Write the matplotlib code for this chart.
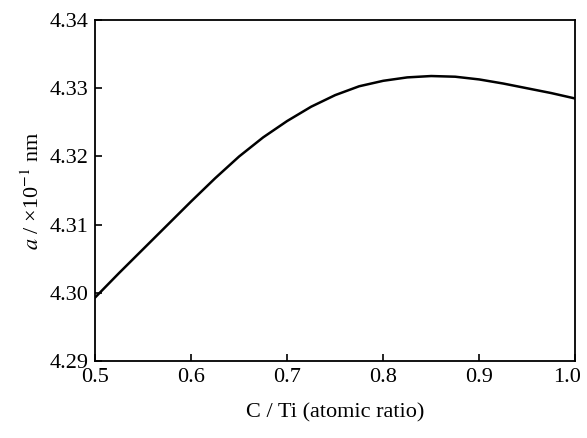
import matplotlib
matplotlib.use("Agg")
import matplotlib.pyplot as plt
import matplotlib.transforms as mtransforms

# C/Ti ratio vs lattice parameter
ratio = [0.500, 0.525, 0.550, 0.575, 0.600, 0.625, 0.650, 0.675, 0.700, 0.725, 0.750,
         0.775, 0.800, 0.825, 0.850, 0.875, 0.900, 0.925, 0.950, 0.975, 1.000]
lattice = [4.2993, 4.3029, 4.3064, 4.3099, 4.3134, 4.3168, 4.3200, 4.3228, 4.3252, 4.3273, 4.3290,
           4.3303, 4.3311, 4.3316, 4.3318, 4.3317, 4.3313, 4.3307, 4.3300, 4.3293, 4.3285]

xticks = [0.5, 0.6, 0.7, 0.8, 0.9, 1.0]
yticks = [4.29, 4.30, 4.31, 4.32, 4.33, 4.34]

plt.rcParams['font.family'] = ['Liberation Serif', 'DejaVu Serif']
plt.rcParams['mathtext.fontset'] = 'stix'

fig = plt.figure(figsize=(5.87, 4.38), dpi=100)
ax = fig.add_axes([0.162, 0.176, 0.818, 0.778])

ax.plot(ratio, lattice, color='black', lw=1.8)

ax.set_xlim(0.5, 1.0)
ax.set_ylim(4.29, 4.34)
ax.set_xticks(xticks)
ax.set_xticklabels(["%.1f" % v for v in xticks])
ax.set_yticks(yticks)
ax.set_yticklabels(["%.2f" % v for v in yticks])
ax.tick_params(direction='in', labelsize=16, length=5, width=1.2, pad=5)
for s in ax.spines.values():
    s.set_linewidth(1.3)

# last x label sits flush against the right edge, as in the original
last = ax.get_xticklabels()[-1]
last.set_horizontalalignment('right')
last.set_transform(last.get_transform() + mtransforms.ScaledTranslation(0.06, 0, fig.dpi_scale_trans))

ax.set_xlabel("C / Ti (atomic ratio)", fontsize=16, labelpad=12)
ax.set_ylabel(r"$a$ / ×10$^{-1}$ nm", fontsize=16, labelpad=4)

fig.savefig("out.png", dpi=100)
